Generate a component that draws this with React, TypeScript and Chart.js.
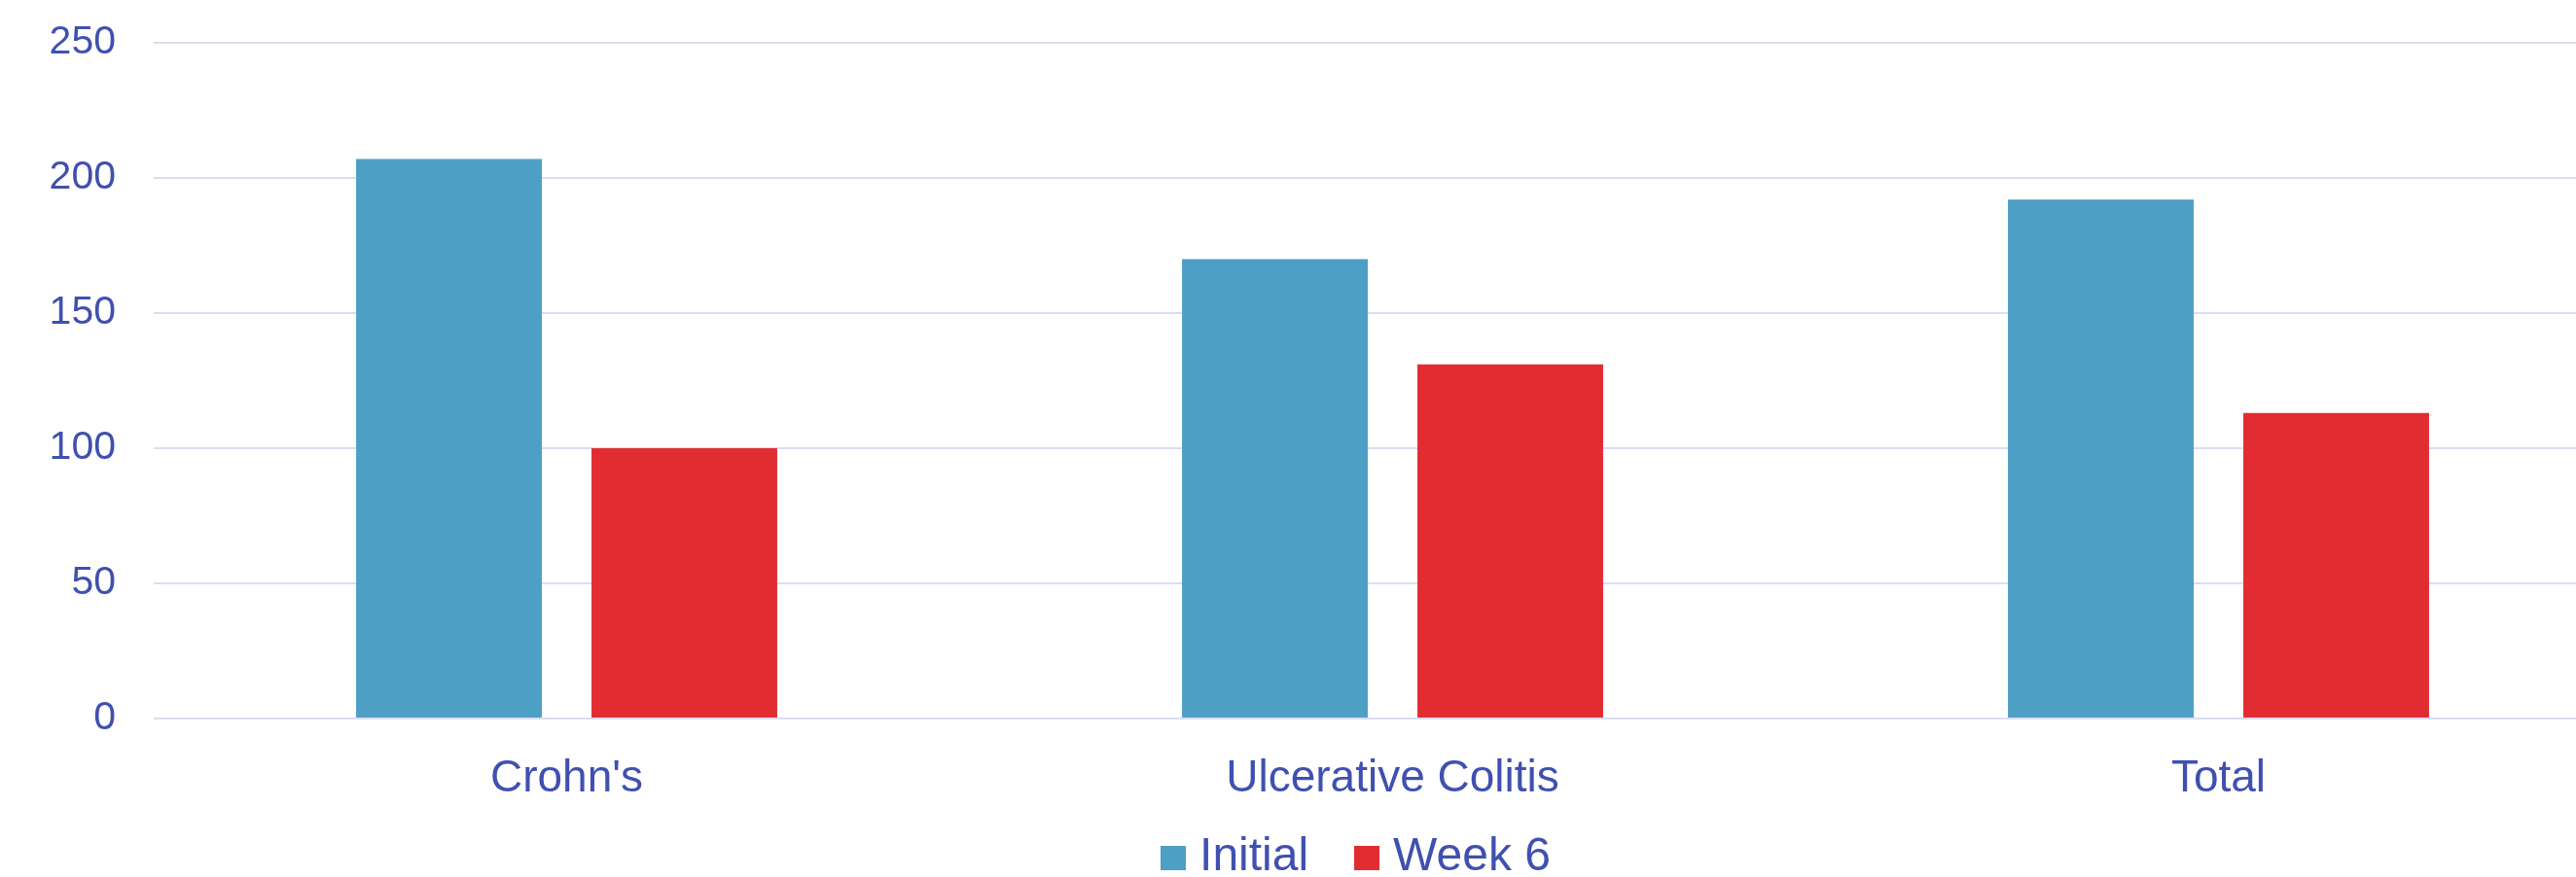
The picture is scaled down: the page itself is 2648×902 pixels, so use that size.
import React, { useEffect, useRef } from "react";
import { Chart, registerables } from "chart.js";

Chart.register(...registerables);

// Categories and series values
const categories: string[] = ["Crohn's", "Ulcerative Colitis", "Total"];
const initialValues: number[] = [207, 170, 192];
const week6Values: number[] = [100, 131, 113];
const seriesLabels: string[] = ["Initial", "Week 6"];

// Value axis range
const yMin = 0;
const yMax = 250;
const yStep = 50;

const BLUE = "#4E9FC5";
const RED = "#E12D31";
const TEXT = "#4050B0";
const GRID = "#DADDF2";
const FONT = "'Liberation Sans', Arial, sans-serif";

const CANVAS_W = 2720;
const CANVAS_H = 990;
const X_AXIS_H = 136;
const Y_AXIS_W = 158;
const LEGEND_SHIFT_X = 46;
const LEGEND_TOP = 801;

// Square legend marker drawn as an image point style
function makeSwatch(color: string): HTMLCanvasElement {
  const c = document.createElement("canvas");
  c.width = 26;
  c.height = 25;
  const ctx = c.getContext("2d");
  if (ctx) {
    ctx.fillStyle = color;
    ctx.fillRect(0, 0, c.width, c.height);
  }
  return c;
}

// Places the legend block after layout
const legendOffset = {
  id: "legendOffset",
  afterLayout(chart: any) {
    const lg = chart.legend;
    if (lg) {
      const dy = LEGEND_TOP - lg.top;
      lg.left += LEGEND_SHIFT_X;
      lg.right += LEGEND_SHIFT_X;
      lg.top += dy;
      lg.bottom += dy;
    }
  },
};

export default function App() {
  const canvasRef = useRef<HTMLCanvasElement | null>(null);

  useEffect(() => {
    const canvas = canvasRef.current;
    if (!canvas) return;
    const swatches = [makeSwatch(BLUE), makeSwatch(RED)];

    const chart = new Chart(canvas, {
      type: "bar",
      data: {
        labels: categories,
        datasets: [
          {
            label: seriesLabels[0],
            data: initialValues,
            backgroundColor: BLUE,
            borderWidth: 0,
            categoryPercentage: 0.57,
            barPercentage: 0.789,
          },
          {
            label: seriesLabels[1],
            data: week6Values,
            backgroundColor: RED,
            borderWidth: 0,
            categoryPercentage: 0.57,
            barPercentage: 0.789,
          },
        ],
      },
      options: {
        responsive: false,
        animation: false,
        devicePixelRatio: 1,
        layout: {
          autoPadding: false,
          padding: { top: 44, left: 0, right: 15, bottom: 0 },
        },
        scales: {
          x: {
            grid: { display: false, drawTicks: false },
            border: { display: false },
            ticks: {
              color: TEXT,
              font: { family: FONT, size: 46 },
              padding: 35,
              maxRotation: 0,
            },
            afterFit: (scale: any) => {
              scale.height = X_AXIS_H;
            },
          },
          y: {
            min: yMin,
            max: yMax,
            grid: { color: GRID, lineWidth: 2, drawTicks: false },
            border: { display: false },
            ticks: {
              stepSize: yStep,
              color: TEXT,
              font: { family: FONT, size: 41 },
              padding: 39,
            },
            afterFit: (scale: any) => {
              scale.width = Y_AXIS_W;
              scale.paddingTop = 0;
              scale.paddingBottom = 0;
            },
          },
        },
        plugins: {
          tooltip: { enabled: false },
          legend: {
            position: "bottom",
            labels: {
              color: TEXT,
              font: { family: FONT, size: 48 },
              usePointStyle: true,
              boxWidth: 6,
              padding: 57,
              generateLabels: (ch: any) => {
                const items = Chart.defaults.plugins.legend.labels.generateLabels(ch);
                return items.map((it: any, i: number) => ({
                  ...it,
                  pointStyle: swatches[i],
                }));
              },
            },
          },
        },
      },
      plugins: [legendOffset],
    });

    return () => {
      chart.destroy();
    };
  }, []);

  return (
    <div
      style={{
        position: "absolute",
        left: 0,
        top: 0,
        width: 2648,
        height: 902,
        overflow: "hidden",
        background: "#ffffff",
      }}
    >
      <canvas
        ref={canvasRef}
        width={CANVAS_W}
        height={CANVAS_H}
        style={{ display: "block", width: CANVAS_W, height: CANVAS_H }}
      />
    </div>
  );
}
